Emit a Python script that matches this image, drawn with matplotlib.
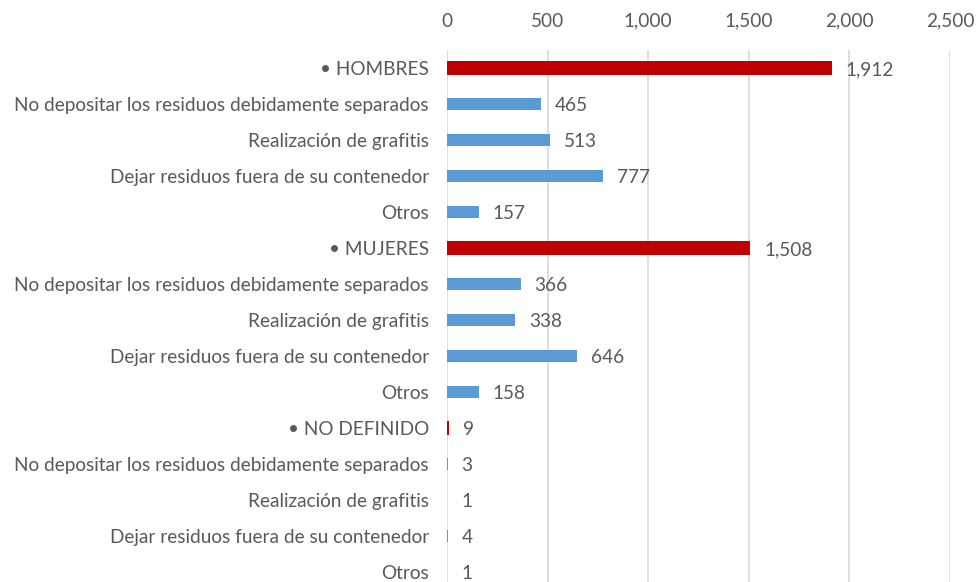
import matplotlib
matplotlib.use("Agg")
import matplotlib.pyplot as plt
from matplotlib.ticker import FuncFormatter

plt.rcParams['font.family'] = ['Lato', 'DejaVu Sans']

categories = [
    "• HOMBRES",
    "No depositar los residuos debidamente separados",
    "Realización de grafitis",
    "Dejar residuos fuera de su contenedor",
    "Otros",
    "• MUJERES",
    "No depositar los residuos debidamente separados",
    "Realización de grafitis",
    "Dejar residuos fuera de su contenedor",
    "Otros",
    "• NO DEFINIDO",
    "No depositar los residuos debidamente separados",
    "Realización de grafitis",
    "Dejar residuos fuera de su contenedor",
    "Otros",
]
values = [1912, 465, 513, 777, 157, 1508, 366, 338, 646, 158, 9, 3, 1, 4, 1]
is_group = [True, False, False, False, False,
            True, False, False, False, False,
            True, False, False, False, False]

RED = "#C00000"
BLUE = "#5B9BD5"
TEXT = "#595959"
GRID = "#D9D9D9"
FS = 13.7

fig = plt.figure(figsize=(9.79, 5.82), dpi=100)
ax = fig.add_axes([447 / 979, 0.0, (950 - 447) / 979, (582 - 50) / 582])

ypos = list(range(len(categories)))
colors = [RED if g else BLUE for g in is_group]
heights = [0.40 if g else 0.36 for g in is_group]
ax.barh(ypos, values, height=heights, color=colors, zorder=3)

ax.set_xlim(0, 2500)
ax.set_ylim(14 + 10 / 36, -0.5)
ax.set_xticks([0, 500, 1000, 1500, 2000, 2500])
ax.xaxis.set_major_formatter(FuncFormatter(lambda v, p: f"{int(v):,}"))
ax.xaxis.tick_top()
ax.tick_params(axis='x', length=0, pad=14.5, labelsize=FS, labelcolor=TEXT)
ax.set_yticks(ypos)
ax.set_yticklabels(categories)
ax.tick_params(axis='y', length=0, pad=13, labelsize=FS, labelcolor=TEXT)

ax.grid(axis='x', color=GRID, linewidth=1.2, zorder=0)
for side in ['top', 'right', 'bottom', 'left']:
    ax.spines[side].set_visible(False)

for y, v in zip(ypos, values):
    ax.annotate(f"{v:,}", xy=(v, y), xytext=(10, -1), textcoords='offset points',
                va='center', ha='left', fontsize=FS, color=TEXT)

fig.savefig("out.png", dpi=100)
